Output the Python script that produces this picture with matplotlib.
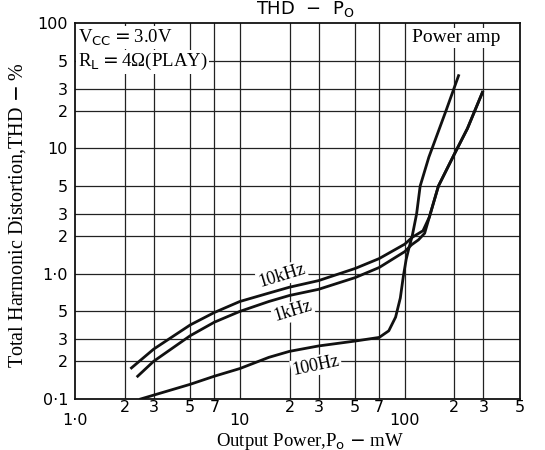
import matplotlib.pyplot as plt
from matplotlib.ticker import FixedLocator, NullFormatter, FixedFormatter

# curves (Po in mW, THD in %)
po_100 = [2.5, 5, 7, 10, 15, 20, 30, 50, 70, 80, 88, 94, 98, 102, 106, 111, 118, 124, 140, 178, 212]
thd_100 = [0.1, 0.131, 0.152, 0.175, 0.215, 0.24, 0.265, 0.29, 0.31, 0.35, 0.45, 0.64, 0.95, 1.3, 1.6, 2.0, 3.0, 5.0, 8.5, 20, 38]

po_1k = [2.4, 3, 5, 7, 10, 15, 20, 30, 50, 70, 100, 110, 121, 132, 141, 160, 200, 240, 296]
thd_1k = [0.152, 0.2, 0.32, 0.41, 0.5, 0.6, 0.67, 0.75, 0.93, 1.12, 1.5, 1.7, 1.86, 2.1, 2.83, 5.0, 9.0, 14.4, 28]

po_10k = [2.2, 3, 5, 7, 10, 15, 20, 30, 50, 70, 100, 111, 129, 141, 160, 200, 240, 296]
thd_10k = [0.177, 0.25, 0.39, 0.49, 0.6, 0.7, 0.78, 0.88, 1.1, 1.32, 1.72, 1.95, 2.2, 2.83, 5.0, 9.0, 14.4, 28]

x_grid = [2, 3, 5, 7, 10, 20, 30, 50, 70, 100, 200, 300]
y_grid = [0.2, 0.3, 0.5, 1, 2, 3, 5, 10, 20, 30, 50]

x_major = [1, 10, 100]
x_major_lab = ['1·0', '10', '100']
x_minor = [2, 3, 5, 7, 20, 30, 50, 70, 200, 300, 500]
x_minor_lab = ['2', '3', '5', '7', '2', '3', '5', '7', '2', '3', '5']

y_ticks = [0.1, 0.2, 0.3, 0.5, 1, 2, 3, 5, 10, 20, 30, 50, 100]
y_lab = ['0·1', '2', '3', '5', '1·0', '2', '3', '5', '10', '2', '3', '5', '100']

serif = 'Liberation Serif'

fig = plt.figure(figsize=(5.45, 4.5), dpi=100)
ax = fig.add_axes([75/545, 1-399/450, 445/545, 376/450])
ax.set_xscale('log')
ax.set_yscale('log')
ax.set_xlim(1, 500)
ax.set_ylim(0.1, 100)

for xv in x_grid:
    ax.axvline(xv, color='#222222', lw=0.9, zorder=1)
for yv in y_grid:
    ax.axhline(yv, color='#222222', lw=0.9, zorder=1)

# curve labels sit on white patches that break the grid, under the curves
bb = dict(facecolor='white', edgecolor='none', pad=1)
ax.text(18, 0.97, '10kHz', fontsize=13, family=serif, rotation=17, ha='center', va='center', bbox=bb, zorder=2)
ax.text(21, 0.5, '1kHz', fontsize=13, family=serif, rotation=17, ha='center', va='center', bbox=bb, zorder=2)
ax.text(29, 0.185, '100Hz', fontsize=13, family=serif, rotation=12, ha='center', va='center', bbox=bb, zorder=2)

ax.plot(po_100, thd_100, color='#111111', lw=2, zorder=3)
ax.plot(po_1k, thd_1k, color='#111111', lw=2, zorder=3)
ax.plot(po_10k, thd_10k, color='#111111', lw=2, zorder=3)

ax.text(1.04, 76, 'V$_{\\mathrm{CC}}$$=$3.0V', fontsize=13.5, family=serif, va='center', ha='left',
        bbox=dict(facecolor='white', edgecolor='none', pad=1), zorder=4)
ax.text(1.04, 49, 'R$_{\\mathrm{L}}$$=$4Ω(PLAY)', fontsize=13.5, family=serif, va='center', ha='left',
        bbox=dict(facecolor='white', edgecolor='none', pad=1), zorder=4)
ax.text(380, 76, 'Power amp', fontsize=14, family=serif, va='center', ha='right',
        bbox=dict(facecolor='white', edgecolor='none', pad=1), zorder=4)

ax.xaxis.set_major_locator(FixedLocator(x_major))
ax.xaxis.set_major_formatter(FixedFormatter(x_major_lab))
ax.xaxis.set_minor_locator(FixedLocator(x_minor))
ax.xaxis.set_minor_formatter(FixedFormatter(x_minor_lab))
ax.tick_params(axis='x', which='major', length=0, pad=10, labelsize=11.5)
ax.tick_params(axis='x', which='minor', length=0, pad=1, labelsize=11.5)

ax.yaxis.set_major_locator(FixedLocator(y_ticks))
ax.yaxis.set_major_formatter(FixedFormatter(y_lab))
ax.yaxis.set_minor_locator(FixedLocator([]))
ax.yaxis.set_minor_formatter(NullFormatter())
ax.tick_params(axis='y', which='major', length=0, pad=5, labelsize=11.5)

for s in ax.spines.values():
    s.set_linewidth(1.3)
    s.set_color('#111111')

fig.text(310/545, 1 - 441/450, 'Output Power,P$_{\\mathrm{o}}$ $-$ mW', family=serif, fontsize=13.5,
         ha='center', va='center')
fig.text(18/545, 1 - 215/450, 'Total Harmonic Distortion,THD $-$ %', family=serif, fontsize=14.5,
         ha='center', va='center', rotation=90)

fig.text(0.56, 1 - 14/450, 'THD  $-$  P$_{\\mathrm{O}}$', fontsize=13, ha='center', va='baseline')

fig.savefig('out.png', dpi=100)
